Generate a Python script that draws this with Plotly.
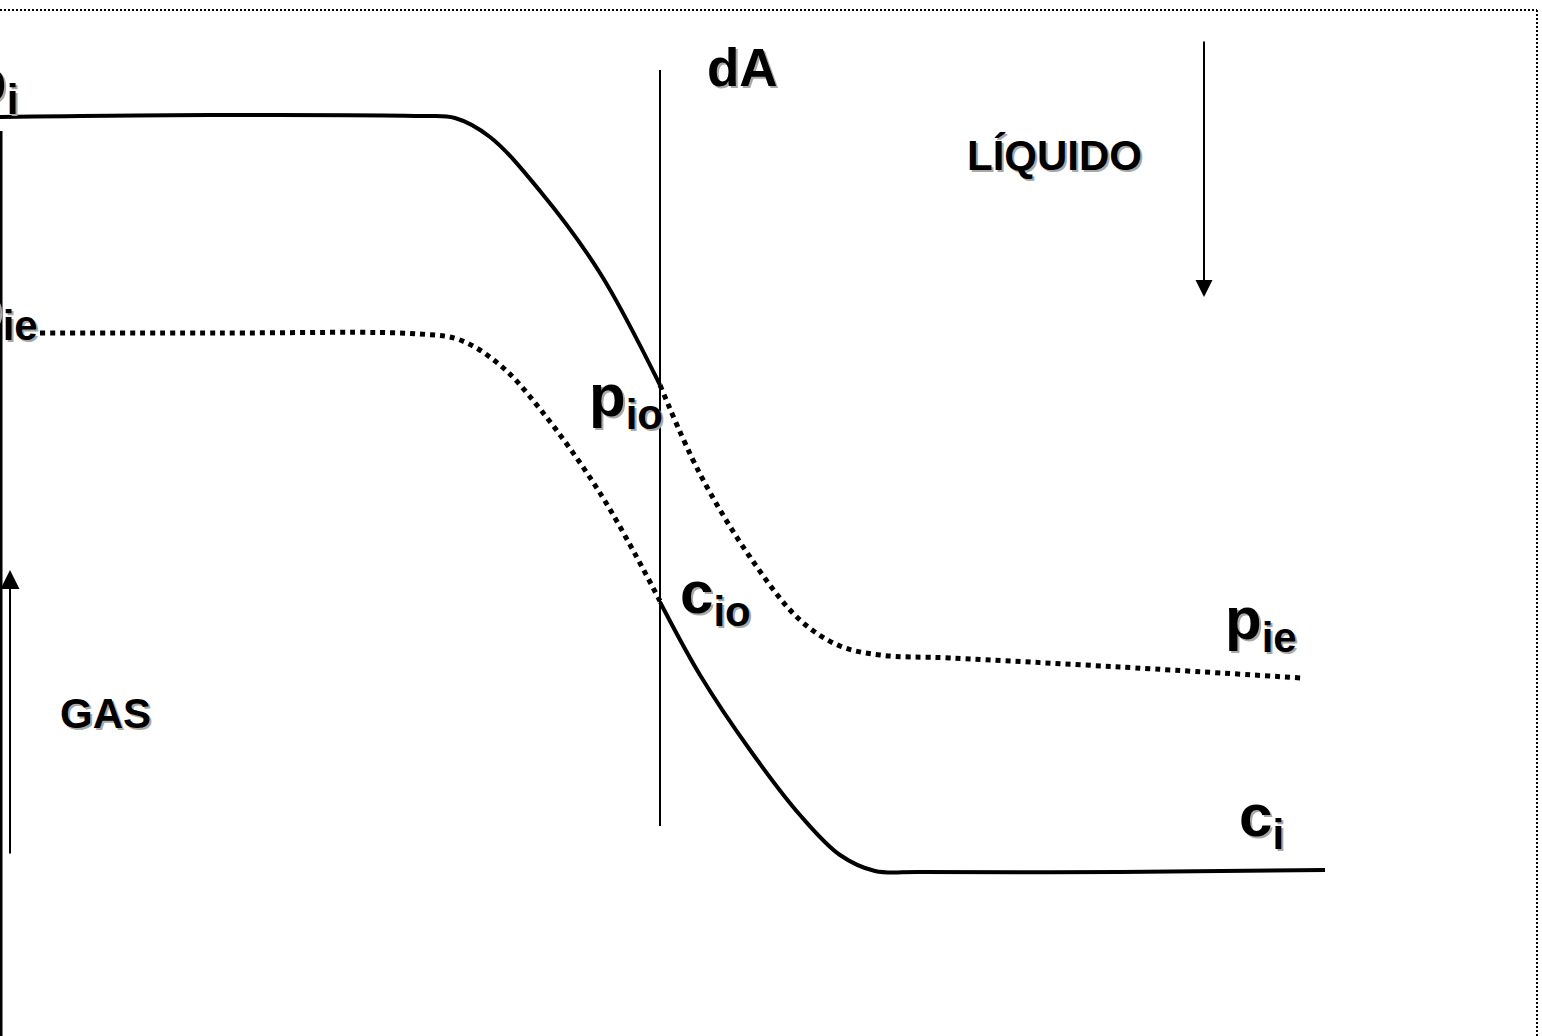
import plotly.graph_objects as go

W, H = 1542, 1036

# --- curve data (horizontal position, vertical position in diagram units; y grows downward) ---
gas_p_x = [0, 210, 420, 455, 490, 540, 600, 660]
gas_p_y = [117, 115, 116, 118, 137, 191, 273, 385]

gas_pie_x = [40, 220, 420, 460, 500, 540, 600, 660]
gas_pie_y = [333, 333, 334, 340, 365, 409, 493, 601]

liq_pie_x = [660, 700, 750, 800, 840, 880, 950, 1120, 1302]
liq_pie_y = [385, 474, 557, 620, 646, 655, 658, 667, 678]

liq_c_x = [660, 700, 750, 800, 840, 875, 920, 1120, 1325]
liq_c_y = [602, 675, 750, 815, 855, 871, 872, 872, 870]

interface_x = [660, 660]
interface_y = [70, 826]

# labels: (text, x, y_top, size, xshift)
labels = [
    ("p<sub>i</sub>", 0, 46, 60, -31),
    ("p<sub>ie</sub>", 0, 272, 60, -35),
    ("p<sub>io</sub>", 588, 361, 60, 0),
    ("c<sub>io</sub>", 679, 558, 60, 0),
    ("p<sub>ie</sub>", 1224, 584, 60, 0),
    ("c<sub>i</sub>", 1238, 781, 60, 0),
    ("dA", 706, 37, 53, 0),
    ("LÍQUIDO", 966, 131, 42, 0),
    ("GAS", 59, 689, 42, 0),
]

fig = go.Figure()

solid = dict(color="black", width=4, shape="spline", smoothing=1.0)
dotted = dict(color="black", width=5, dash="5px,5px", shape="spline", smoothing=1.0)

fig.add_trace(go.Scatter(x=gas_p_x, y=gas_p_y, mode="lines", line=solid, hoverinfo="skip"))
fig.add_trace(go.Scatter(x=gas_pie_x, y=gas_pie_y, mode="lines", line=dotted, hoverinfo="skip"))
fig.add_trace(go.Scatter(x=liq_pie_x, y=liq_pie_y, mode="lines", line=dotted, hoverinfo="skip"))
fig.add_trace(go.Scatter(x=liq_c_x, y=liq_c_y, mode="lines", line=solid, hoverinfo="skip"))
fig.add_trace(go.Scatter(x=interface_x, y=interface_y, mode="lines",
                         line=dict(color="black", width=2), hoverinfo="skip"))

# frame: dotted top & right, solid left edge
fig.add_shape(type="line", x0=0, x1=1537, y0=10, y1=10, xref="x", yref="y",
              line=dict(color="black", width=2, dash="2px,2px"))
fig.add_shape(type="line", x0=1537, x1=1537, y0=10, y1=H, xref="x", yref="y",
              line=dict(color="black", width=2, dash="2px,2px"))
fig.add_shape(type="line", x0=1, x1=1, y0=131, y1=H, xref="x", yref="y",
              line=dict(color="black", width=3))

# arrows
fig.add_annotation(x=10, y=570, ax=10, ay=855, xref="x", yref="y", axref="x", ayref="y",
                   text="", showarrow=True, arrowhead=2, arrowsize=1.9, arrowwidth=2,
                   arrowcolor="black", standoff=0, startstandoff=0)
fig.add_annotation(x=1204, y=297, ax=1204, ay=40, xref="x", yref="y", axref="x", ayref="y",
                   text="", showarrow=True, arrowhead=2, arrowsize=1.7, arrowwidth=2,
                   arrowcolor="black", standoff=0, startstandoff=0)

for txt, x, y, size, xs in labels:
    for col, dx, dy in (("#a8a8a8", 2, -2), ("black", 0, 0)):
        fig.add_annotation(x=x, y=y, xref="x", yref="y", text=txt, showarrow=False,
                           xanchor="left", yanchor="top", xshift=xs + dx, yshift=dy,
                           borderpad=0,
                           font=dict(family="Liberation Sans, Arial, sans-serif",
                                     size=size, color=col, weight="bold"))

fig.update_xaxes(range=[0, W], visible=False, fixedrange=True)
fig.update_yaxes(range=[H, 0], visible=False, fixedrange=True)
fig.update_layout(width=W, height=H, margin=dict(l=0, r=0, t=0, b=0),
                  paper_bgcolor="white", plot_bgcolor="white", showlegend=False)

fig.write_html("out.html", config={"displayModeBar": False},
               post_script="document.body.style.margin='0';document.body.style.overflow='hidden';")
